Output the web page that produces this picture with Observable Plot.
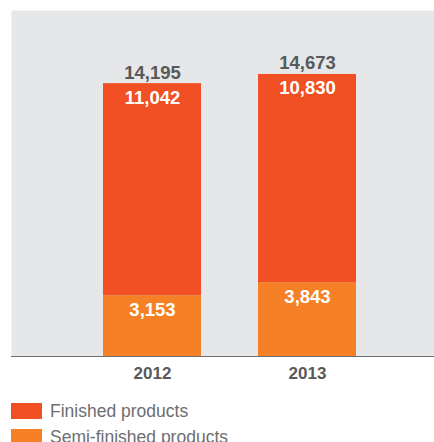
<!DOCTYPE html>
<html>
<head>
<meta charset="utf-8">
<script src="https://cdn.jsdelivr.net/npm/d3@7"></script>
<script src="https://cdn.jsdelivr.net/npm/@observablehq/plot@0.6"></script>
<style>
  body { margin: 0; background: #fff; font-family: "Liberation Sans", Arial, sans-serif; }
  #chart svg { display: block; }
  .legend { margin-top: 8px; margin-left: 11px; }
  .item { display: flex; align-items: center; height: 26px; color: #6d6e71; font-size: 17.5px; line-height: 20px; }
  .sw { width: 31px; height: 16px; margin-right: 8px; flex: none; }
</style>
</head>
<body>
<div id="chart"></div>
<div class="legend" id="legend"></div>
<script>
const years = ["2012", "2013"];
const series = ["Semi-finished products", "Finished products"];
const semiFinished = [3153, 3843];
const finished = [11042, 10830];
const totals = [14195, 14673];
const colors = { "Finished products": "#f05023", "Semi-finished products": "#f58025" };

const rows = [];
years.forEach((yr, i) => {
  rows.push({ year: yr, series: "Semi-finished products", value: semiFinished[i] });
  rows.push({ year: yr, series: "Finished products", value: finished[i] });
});
const totalRows = years.map((yr, i) => ({ year: yr, total: totals[i] }));
const fmt = d3.format(",");

const chart = Plot.plot({
  width: 434,
  height: 390,
  marginTop: 10,
  marginBottom: 34,
  marginLeft: 11,
  marginRight: 0,
  style: { fontFamily: "'Liberation Sans', Arial, sans-serif", background: "transparent" },
  x: { domain: years, paddingInner: 0.368, paddingOuter: 0.548, align: 0.54, label: null },
  y: { domain: [0, 18000], axis: null },
  color: { domain: series.slice().reverse(), range: ["#f05023", "#f58025"] },
  marks: [
    Plot.frame({ fill: "#e6e7e8", stroke: null }),
    Plot.barY(rows, { x: "year", y: "value", fill: "series", order: series }),
    Plot.text(rows, Plot.stackY2({ x: "year", y: "value", z: "series", order: series, text: d => fmt(d.value), dy: 14, fill: "white", fontWeight: "bold", fontSize: 18.5 })),
    Plot.text(totalRows, { x: "year", y: "total", text: d => fmt(d.total), dy: -11, fill: "#58595b", fontWeight: "bold", fontSize: 18.5 }),
    Plot.ruleY([0], { stroke: "#6d6e71", strokeWidth: 1.2 }),
    Plot.axisX({ tickSize: 0, tickPadding: 10, fontSize: 17, fontWeight: "bold", color: "#58595b", label: null })
  ]
});
document.getElementById("chart").appendChild(chart);

const legend = document.getElementById("legend");
["Finished products", "Semi-finished products"].forEach(s => {
  const it = document.createElement("div");
  it.className = "item";
  const sw = document.createElement("div");
  sw.className = "sw";
  sw.style.background = colors[s];
  const tx = document.createElement("span");
  tx.textContent = s;
  it.appendChild(sw); it.appendChild(tx);
  legend.appendChild(it);
});
</script>
</body>
</html>
